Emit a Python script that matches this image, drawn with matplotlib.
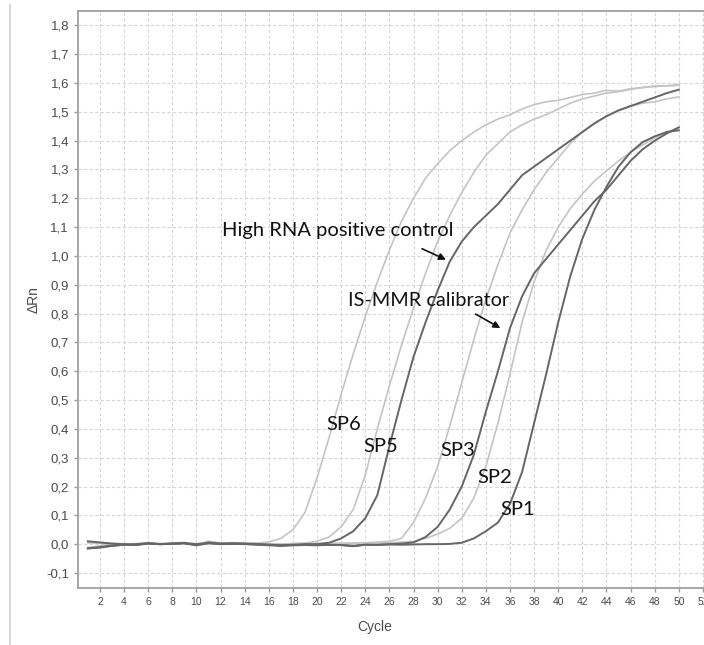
import matplotlib.pyplot as plt
from matplotlib.lines import Line2D
from matplotlib.ticker import FuncFormatter

cycles = list(range(1, 51))

# valeurs (ΔRn par cycle)
sp6 = [-0.012, -0.006, 0.000, 0.002, -0.002, 0.005, 0.001, 0.004, 0.006, -0.002,
       0.010, 0.004, 0.005, 0.005, 0.003, 0.008, 0.020, 0.05, 0.11, 0.23,
       0.37, 0.52, 0.66, 0.79, 0.91, 1.02, 1.12, 1.20, 1.27, 1.32,
       1.365, 1.40, 1.43, 1.455, 1.475, 1.49, 1.51, 1.525, 1.535, 1.54,
       1.55, 1.56, 1.565, 1.575, 1.572, 1.58, 1.585, 1.59, 1.59, 1.595]
sp5 = [0.008, 0.004, 0.001, 0.000, 0.002, 0.004, 0.000, 0.003, 0.005, 0.000,
       0.008, 0.002, 0.004, 0.004, 0.002, 0.001, 0.000, 0.002, 0.004, 0.010,
       0.025, 0.06, 0.12, 0.24, 0.40, 0.55, 0.69, 0.82, 0.94, 1.05,
       1.14, 1.22, 1.29, 1.35, 1.39, 1.43, 1.455, 1.475, 1.49, 1.51,
       1.53, 1.545, 1.555, 1.565, 1.57, 1.578, 1.584, 1.588, 1.59, 1.592]
pos_ctrl = [-0.015, -0.012, -0.006, -0.002, 0.000, 0.003, 0.000, 0.002, 0.004, -0.003,
            0.006, 0.002, 0.003, 0.002, 0.000, -0.002, -0.004, -0.002, 0.000, 0.000,
            0.005, 0.02, 0.045, 0.09, 0.17, 0.34, 0.50, 0.65, 0.77, 0.88,
            0.98, 1.05, 1.10, 1.14, 1.18, 1.23, 1.28, 1.31, 1.34, 1.37,
            1.40, 1.43, 1.46, 1.485, 1.505, 1.52, 1.535, 1.55, 1.565, 1.577]
sp3 = [0.006, 0.004, 0.002, 0.001, 0.001, 0.004, 0.002, 0.003, 0.004, 0.001,
       0.005, 0.002, 0.003, 0.003, 0.002, 0.001, 0.001, 0.002, 0.002, 0.002,
       0.003, 0.003, 0.004, 0.005, 0.007, 0.010, 0.02, 0.075, 0.16, 0.27,
       0.41, 0.56, 0.71, 0.85, 0.97, 1.08, 1.16, 1.23, 1.29, 1.34,
       1.39, 1.43, 1.46, 1.485, 1.505, 1.52, 1.53, 1.535, 1.545, 1.552]
is_mmr = [0.010, 0.006, 0.002, 0.000, -0.002, 0.003, 0.000, 0.002, 0.003, 0.000,
          0.004, 0.001, 0.002, 0.001, 0.000, -0.002, -0.004, -0.003, -0.002, -0.002,
          -0.003, -0.003, -0.006, -0.002, -0.002, 0.000, 0.002, 0.006, 0.025, 0.06,
          0.12, 0.20, 0.31, 0.46, 0.60, 0.75, 0.86, 0.94, 0.99, 1.04,
          1.09, 1.14, 1.19, 1.23, 1.28, 1.33, 1.37, 1.40, 1.425, 1.446]
sp2 = [0.005, 0.003, 0.002, 0.001, 0.000, 0.004, 0.001, 0.003, 0.004, 0.001,
       0.006, 0.003, 0.003, 0.003, 0.002, 0.000, 0.000, 0.001, 0.001, 0.002,
       0.002, 0.002, 0.002, 0.003, 0.004, 0.005, 0.007, 0.01, 0.02, 0.035,
       0.055, 0.09, 0.16, 0.27, 0.42, 0.59, 0.77, 0.91, 1.02, 1.10,
       1.165, 1.215, 1.26, 1.295, 1.33, 1.36, 1.385, 1.41, 1.43, 1.445]
sp1 = [-0.014, -0.010, -0.005, -0.002, -0.003, 0.002, 0.000, 0.001, 0.003, -0.004,
       0.003, 0.000, 0.001, 0.000, -0.002, -0.004, -0.006, -0.004, -0.003, -0.004,
       -0.002, -0.003, -0.007, -0.002, -0.003, -0.001, -0.002, -0.001, 0.000, 0.000,
       0.001, 0.005, 0.02, 0.045, 0.075, 0.14, 0.25, 0.42, 0.59, 0.77,
       0.93, 1.06, 1.16, 1.24, 1.31, 1.36, 1.395, 1.415, 1.43, 1.436]

LIGHT = "#c4c4c4"
DARK = "#666666"
LABEL_FONT = ["Lato", "DejaVu Sans"]
TICK_FONT = ["Liberation Sans", "DejaVu Sans"]

fig = plt.figure(figsize=(7.04, 6.45), dpi=100)
ax = fig.add_axes([0.1108, 0.0884, 0.922, 0.8946])

for y, col, lw in [(sp6, LIGHT, 1.2), (sp5, LIGHT, 1.2), (sp3, LIGHT, 1.2),
                   (sp2, LIGHT, 1.2), (pos_ctrl, DARK, 1.4), (is_mmr, DARK, 1.4),
                   (sp1, DARK, 1.4)]:
    ax.plot(cycles, y, color=col, lw=lw, zorder=3)

ax.set_xlim(0.18, 54)
ax.set_ylim(-0.152, 1.85)
ax.set_xticks(range(2, 53, 2))
ax.set_yticks([i / 10 for i in range(-1, 19)])
ax.yaxis.set_major_formatter(FuncFormatter(lambda v, p: f"{v:.1f}".replace(".", ",")))
ax.tick_params(axis="both", colors="#9a9a9a", labelcolor="#4a4a4a", length=3, width=1)
ax.tick_params(axis="y", labelsize=9.5)
ax.tick_params(axis="x", labelsize=7.5)
for lab in ax.get_xticklabels() + ax.get_yticklabels():
    lab.set_family(TICK_FONT)

ax.grid(True, color="#d6d6d6", linestyle=(0, (3, 2)), linewidth=0.8, zorder=0)
for s in ["left", "bottom", "top"]:
    ax.spines[s].set_color("#a0a0a0")
    ax.spines[s].set_linewidth(1.3)
ax.spines["right"].set_visible(False)

ax.set_ylabel("ΔRn", fontsize=10, color="#4a4a4a", family=TICK_FONT)
ax.yaxis.set_label_coords(-0.058, 0.5)
fig.text(375 / 704, 1 - 627 / 645, "Cycle", ha="center", va="center", fontsize=10,
         color="#4a4a4a", family=TICK_FONT)

# annotations
ax.text(12.1, 1.09, "High RNA positive control", fontsize=14.5, family=LABEL_FONT,
        va="center", ha="left", color="#111111")
ax.annotate("", xy=(30.9, 0.983), xytext=(28.5, 1.029),
            arrowprops=dict(arrowstyle="-|>", color="#111111", lw=1.2, mutation_scale=10))
ax.text(22.6, 0.847, "IS-MMR calibrator", fontsize=14.3, family=LABEL_FONT,
        va="center", ha="left", color="#111111")
ax.annotate("", xy=(35.4, 0.745), xytext=(32.95, 0.803),
            arrowprops=dict(arrowstyle="-|>", color="#111111", lw=1.2, mutation_scale=10))
for name, cx, cy in [("SP6", 20.8, 0.415), ("SP5", 23.8, 0.34), ("SP3", 30.2, 0.326),
                     ("SP2", 33.3, 0.233), ("SP1", 35.2, 0.12)]:
    ax.text(cx, cy, name, fontsize=14.5, family=LABEL_FONT, va="center", ha="left",
            color="#111111")

# trait vertical du cadre à gauche
fig.add_artist(Line2D([10 / 704, 10 / 704], [0, 1 - 5 / 645], color="#cfcfcf", lw=1.2))

fig.savefig("out.png", dpi=100)
